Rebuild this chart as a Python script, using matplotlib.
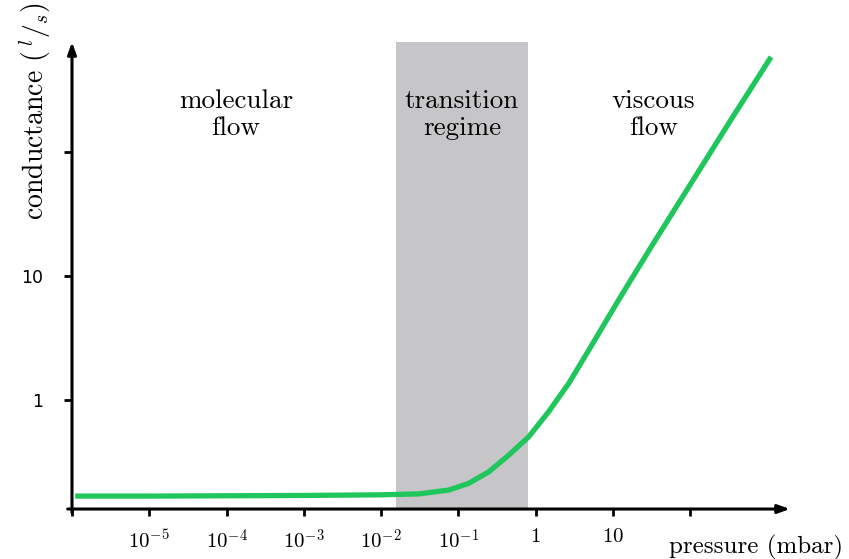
import numpy as np
import matplotlib
matplotlib.use("Agg")
import matplotlib.pyplot as plt

plt.rcParams['mathtext.fontset'] = 'cm'
plt.rcParams['font.family'] = 'serif'
plt.rcParams['font.serif'] = ['cmr10', 'DejaVu Serif']
plt.rcParams['axes.unicode_minus'] = False

# values (pressure in mbar, conductance in l/s)
pressure = [1.1e-6, 1e-5, 1e-4, 1e-3, 0.01, 0.031, 0.075, 0.136, 0.248, 0.449,
            0.813, 1.47, 2.67, 4.83, 11.8, 31.4, 338, 1109]
conductance = [0.168, 0.168, 0.169, 0.170, 0.172, 0.175, 0.188, 0.213, 0.264, 0.360,
               0.506, 0.805, 1.36, 2.51, 6.40, 17.3, 183, 584]

transition_band = (0.0155, 0.80)

x_ticks = [1e-6, 1e-5, 1e-4, 1e-3, 1e-2, 1e-1, 1, 10, 100]
x_labels = ['', r'$10^{-5}$', r'$10^{-4}$', r'$10^{-3}$', r'$10^{-2}$', r'$10^{-1}$', r'$1$', r'$10$', '']
y_ticks = [1, 10, 100]
y_labels = ['1', '10', '']

regions = ['molecular\nflow', 'transition\nregime', 'viscous\nflow']
region_x = [1.32e-4, 0.111, 33]

fig = plt.figure(figsize=(8.49, 5.59), dpi=100)
ax = fig.add_axes([0.0848, 0.0894, 0.8457, 0.8355])
ax.set_xscale('log')
ax.set_yscale('log')
ax.set_xlim(1e-6, 10 ** 3.29)
ax.set_ylim(10 ** -0.879, 10 ** 2.887)

# grey band for the transition regime
ax.axvspan(*transition_band, color='#c6c6c8', lw=0, zorder=0)

ax.plot(pressure, conductance, color='#1ec65c', lw=3.8, solid_capstyle='butt',
        solid_joinstyle='round', zorder=3)

for s in ax.spines.values():
    s.set_visible(False)

# axes with arrow heads
ax.annotate('', xy=(1.0, 0), xytext=(-0.006, 0), xycoords='axes fraction',
            arrowprops=dict(arrowstyle='-|>,head_length=0.7,head_width=0.25', lw=2.2, color='black',
                            shrinkA=0, shrinkB=0))
ax.annotate('', xy=(0, 1.0), xytext=(0, -0.008), xycoords='axes fraction',
            arrowprops=dict(arrowstyle='-|>,head_length=0.7,head_width=0.25', lw=2.2, color='black',
                            shrinkA=0, shrinkB=0))

ax.minorticks_off()
ax.set_xticks(x_ticks)
ax.set_xticklabels(x_labels)
ax.set_yticks(y_ticks)
ax.set_yticklabels(y_labels)
ax.tick_params(axis='x', direction='out', length=5, width=2, pad=9, labelsize=15)
ax.tick_params(axis='y', direction='out', length=6, width=2, pad=15, labelsize=12.5)
for lab in ax.get_yticklabels():
    lab.set_fontfamily('DejaVu Sans')

for txt, xr in zip(regions, region_x):
    ax.text(xr, 10 ** 2.30, txt, ha='center', va='center', fontsize=19.5,
            linespacing=1.2, zorder=4)

fig.text(843 / 849, 1 - 553 / 559, 'pressure (mbar)', ha='right', va='baseline', fontsize=18)
fig.text(36 / 849, 1 - 220 / 559, r'conductance $(\,^{l}/_{s})$', rotation=90,
         ha='center', va='bottom', fontsize=20)

fig.savefig('out.png', dpi=100)
